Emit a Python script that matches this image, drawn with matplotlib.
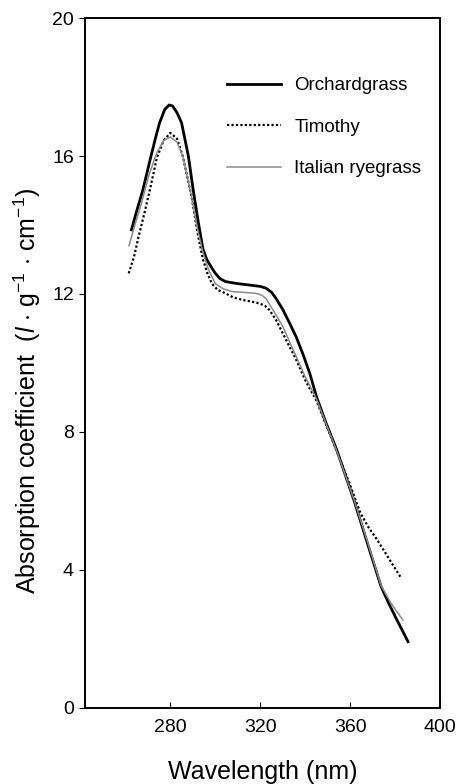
import matplotlib
matplotlib.use('Agg')
import matplotlib.pyplot as plt

plt.rcParams['font.family'] = ['Liberation Sans', 'DejaVu Sans']
plt.rcParams['mathtext.fontset'] = 'custom'
plt.rcParams['mathtext.rm'] = 'Liberation Sans'
plt.rcParams['mathtext.it'] = 'Liberation Sans:italic'

# Courbes (longueur d'onde en nm, coefficient d'absorption)
wl_orchard = [262.7, 265, 267.7, 271.4, 273.5, 275.2, 277.5, 279.5, 281, 283, 285,
              288, 290.2, 292.5, 294.5, 296.2, 298, 300, 302, 304.5, 310, 315, 320,
              322.5, 325, 327, 330, 333, 336, 339, 342, 345, 349, 354, 361.6, 368,
              373.7, 377, 380, 385.7]
orchard = [13.86, 14.4, 15.0, 16.0, 16.55, 16.96, 17.35, 17.48, 17.45, 17.25, 16.96,
           16.0, 15.0, 14.05, 13.3, 13.0, 12.8, 12.6, 12.45, 12.36, 12.3, 12.26, 12.22,
           12.17, 12.05, 11.87, 11.55, 11.16, 10.75, 10.25, 9.7, 9.02, 8.3, 7.48, 6.03,
           4.7, 3.52, 3.05, 2.65, 1.92]

wl_timothy = [261.5, 263.8, 266, 268.3, 271, 274, 277, 280, 283, 285.5, 287.5,
              289.5, 292, 294.5, 296.5, 298.5, 301, 304.5, 308, 312, 316, 319.5, 322,
              324, 327, 330, 336, 340, 345, 354, 360, 364.6, 368, 372, 377, 382.7]
timothy = [12.6, 13.07, 13.7, 14.3, 15.05, 15.95, 16.45, 16.67, 16.5, 16.0, 15.4,
           14.8, 13.8, 13.0, 12.6, 12.3, 12.12, 12.02, 11.9, 11.83, 11.78, 11.73, 11.66,
           11.54, 11.25, 10.86, 10.09, 9.5, 8.9, 7.45, 6.45, 5.64, 5.25, 4.87, 4.35, 3.76]

wl_rye = [261.6, 264, 267, 270.5, 274, 277, 280, 283, 285.5, 287.5, 289.5, 292,
          294.5, 297, 300, 303.5, 307.5, 312, 318, 320.5, 322.5, 326, 330, 336, 340,
          345, 354, 361.6, 368, 373.7, 378, 383.4]
rye = [13.4, 13.95, 14.6, 15.45, 16.1, 16.45, 16.55, 16.4, 16.0, 15.4, 14.8, 13.9,
       13.2, 12.7, 12.3, 12.15, 12.07, 12.05, 12.02, 11.97, 11.87, 11.5, 11.06, 10.18,
       9.6, 8.95, 7.45, 6.05, 4.75, 3.55, 3.05, 2.55]

fig = plt.figure(figsize=(4.59, 7.84), dpi=100)
ax = fig.add_axes([0.185, 0.097, 0.774, 0.880])

ax.plot(wl_orchard, orchard, color='black', lw=2.0, label='Orchardgrass')
ax.plot(wl_timothy, timothy, color='black', lw=1.6, linestyle=(0, (1, 1)), label='Timothy')
ax.plot(wl_rye, rye, color='#8a8a8a', lw=1.1, label='Italian ryegrass')

ax.set_xlim(242, 400)
ax.set_ylim(0, 20)
ax.set_xticks([280, 320, 360, 400])
ax.set_yticks([0, 4, 8, 12, 16, 20])
ax.tick_params(axis='x', direction='in', length=4, labelsize=14, pad=8)
ax.tick_params(axis='y', direction='out', length=4, labelsize=14, pad=4)
for s in ax.spines.values():
    s.set_linewidth(1.4)

ax.set_xlabel('Wavelength (nm)', fontsize=18)
ax.xaxis.set_label_coords(0.5, -0.075)
ax.set_ylabel(r'Absorption coefficient  ($\it{l}$ $\cdot$ g$^{-1}$ $\cdot$ cm$^{-1}$)', fontsize=18)
ax.yaxis.set_label_coords(-0.118, 0.459)

ax.legend(loc='upper left', bbox_to_anchor=(0.373, 0.928), frameon=False, fontsize=13.5,
          handlelength=2.9, handletextpad=0.7, labelspacing=1.3, borderpad=0)

fig.savefig('out.png', dpi=100)
